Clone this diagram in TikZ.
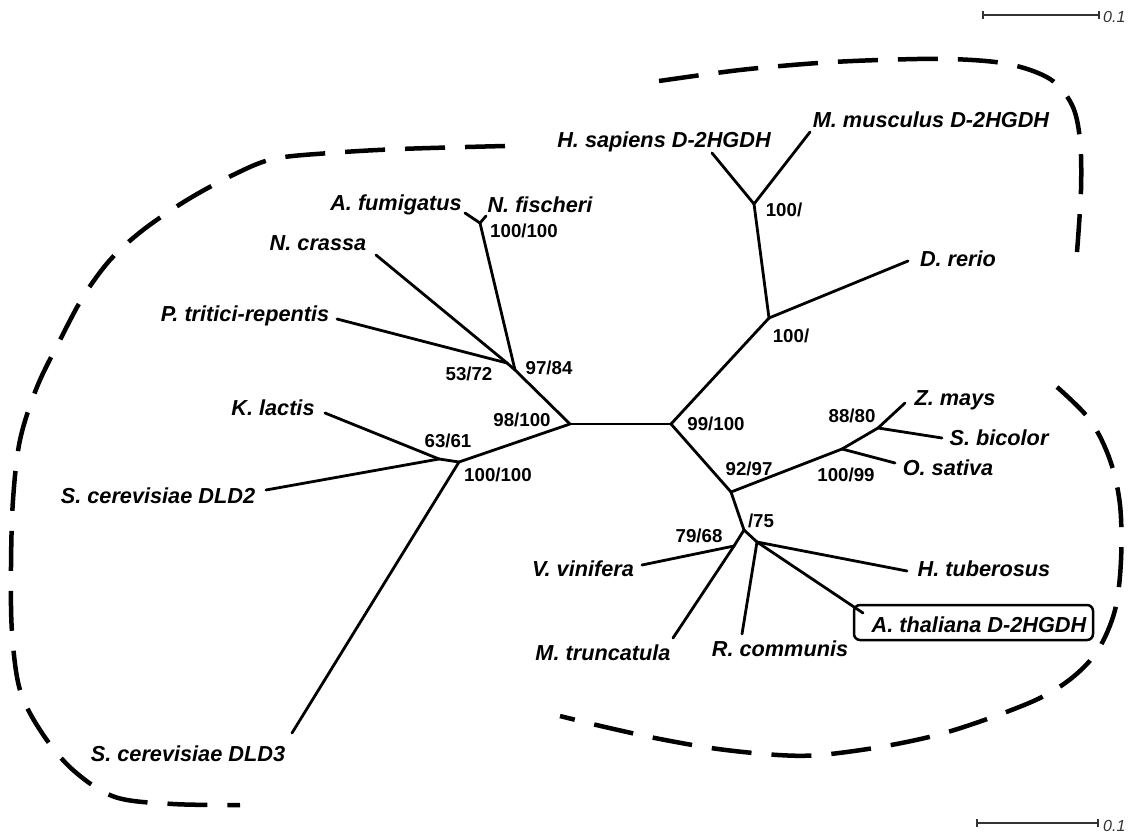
\documentclass[tikz,border=0pt]{standalone}
\usepackage{fontspec}
\setmainfont{Liberation Sans}
\usetikzlibrary{arrows.meta}
\begin{document}
\begin{tikzpicture}[x=1pt,y=-1pt,
  br/.style={line width=2.8pt, line cap=round, line join=round},
  grp/.style={line width=4.5pt, dash pattern=on 40pt off 20pt},
  leaf/.style={font=\fontsize{21.7}{24}\selectfont\bfseries\itshape, inner sep=0pt, anchor=base},
  sup/.style={font=\fontsize{18.7}{20}\selectfont\bfseries, inner sep=0pt, anchor=base},
  scl/.style={line width=1.8pt, draw=black!80, {Bar[width=8pt]}-{Bar[width=8pt]}},
  scltxt/.style={font=\fontsize{16}{18}\selectfont\itshape, inner sep=0pt, anchor=base west, text=black!80},
  hibox/.style={draw, line width=2.5pt, rounded corners=6pt, minimum width=239pt, minimum height=35pt, inner sep=0pt}
]
\useasboundingbox (0,0) rectangle (1131,834);

% ---------- tree coordinates ----------
\coordinate (L0) at (570,424);
\coordinate (R0) at (671,424);
\coordinate (F1) at (515,370);
\coordinate (F2) at (507,363);
\coordinate (AN) at (480,223);
\coordinate (eAfum) at (465,213);
\coordinate (eNfis) at (486,216);
\coordinate (eNcra) at (376,255);
\coordinate (ePtri) at (337,319);
\coordinate (Y1) at (459,462);
\coordinate (Y2) at (439,459);
\coordinate (eKlac) at (325,413);
\coordinate (eDldB) at (266,490);
\coordinate (eDldC) at (292,733);
\coordinate (A1) at (769,318);
\coordinate (A2) at (754,204);
\coordinate (eHsap) at (712,153);
\coordinate (eMmus) at (810,132);
\coordinate (eDrer) at (908,261);
\coordinate (P1) at (731,492);
\coordinate (M1) at (842,449);
\coordinate (M2) at (878,428);
\coordinate (eZmay) at (905,403);
\coordinate (eOsat) at (895,463);
\coordinate (eSbic) at (942,438);
\coordinate (P2) at (744,530);
\coordinate (P3) at (734,546);
\coordinate (eVvin) at (642,565);
\coordinate (eMtru) at (673,638);
\coordinate (P4) at (757,542);
\coordinate (eRcom) at (742,634);
\coordinate (eHtub) at (907,571);
\coordinate (eAtha) at (863,613);

% ---------- highlight box ----------
\node[hibox] (athabox) at (973.5,622.5) {};

% ---------- branches ----------
\draw[br] (L0) -- (R0);
\draw[br] (L0) -- (F1);
\draw[br] (F1) -- (F2);
\draw[br] (F2) -- (eNcra);
\draw[br] (F2) -- (ePtri);
\draw[br] (F1) -- (AN);
\draw[br] (AN) -- (eAfum);
\draw[br] (AN) -- (eNfis);
\draw[br] (L0) -- (Y1);
\draw[br] (Y1) -- (Y2);
\draw[br] (Y2) -- (eKlac);
\draw[br] (Y2) -- (eDldB);
\draw[br] (Y1) -- (eDldC);
\draw[br] (R0) -- (A1);
\draw[br] (A1) -- (A2);
\draw[br] (A2) -- (eHsap);
\draw[br] (A2) -- (eMmus);
\draw[br] (A1) -- (eDrer);
\draw[br] (R0) -- (P1);
\draw[br] (P1) -- (M1);
\draw[br] (M1) -- (M2);
\draw[br] (M2) -- (eZmay);
\draw[br] (M2) -- (eSbic);
\draw[br] (M1) -- (eOsat);
\draw[br] (P1) -- (P2);
\draw[br] (P2) -- (P3);
\draw[br] (P3) -- (eVvin);
\draw[br] (P3) -- (eMtru);
\draw[br] (P2) -- (P4);
\draw[br] (P4) -- (eRcom);
\draw[br] (P4) -- (eHtub);
\draw[br] (P4) -- (eAtha);

% ---------- leaf labels ----------
\node[leaf] (afum) at (396,211) {A. fumigatus};
\node[leaf] (nfis) at (540,213) {N. fischeri};
\node[leaf] (ncra) at (318,251) {N. crassa};
\node[leaf] (ptri) at (245,321) {P. tritici-repentis};
\node[leaf] (klac) at (273,415) {K. lactis};
\node[leaf] (dldb) at (158,503) {S. cerevisiae DLD2};
\node[leaf] (dldc) at (188,761) {S. cerevisiae DLD3};
\node[leaf] (hsap) at (664,148) {H. sapiens D-2HGDH};
\node[leaf] (mmus) at (931,128) {M. musculus D-2HGDH};
\node[leaf] (drer) at (958,266) {D. rerio};
\node[leaf] (zmay) at (955,405) {Z. mays};
\node[leaf] (sbic) at (999,445) {S. bicolor};
\node[leaf] (osat) at (948,475) {O. sativa};
\node[leaf] (htub) at (984,576) {H. tuberosus};
\node[leaf] (atha) at (979,632) {A. thaliana D-2HGDH};
\node[leaf] (rcom) at (780,656) {R. communis};
\node[leaf] (mtru) at (603,660) {M. truncatula};
\node[leaf] (vvin) at (583,576) {V. vinifera};

% ---------- support values ----------
\node[sup] (s1) at (524,237) {100/100};
\node[sup] (s2) at (549,374) {97/84};
\node[sup] (s3) at (469,380) {53/72};
\node[sup] (s4) at (522,426) {98/100};
\node[sup] (s5) at (448,447) {63/61};
\node[sup] (s6) at (498,481) {100/100};
\node[sup] (s7) at (716,430) {99/100};
\node[sup] (s8) at (791,342) {100/};
\node[sup] (s9) at (784,217) {100/};
\node[sup] (s10) at (749,475) {92/97};
\node[sup] (s11) at (852,422) {88/80};
\node[sup] (s12) at (846,481) {100/99};
\node[sup] (s13) at (761,527) {/75};
\node[sup] (s14) at (699,542) {79/68};

% ---------- group outlines ----------
\draw[grp] plot[smooth, tension=0.55] coordinates {(505,146) (400,149) (330,153) (273,159) (233,175) (187,200) (143,230) (110,260) (83,297) (60,340) (37,387) (20,440) (13,500) (11,567) (12,632) (20,690) (42,733) (73,770) (115,797) (173,804) (240,805)};
\draw[grp] plot[smooth, tension=0.55] coordinates {(659,81) (740,70) (818,63) (880,60) (950,59) (1008,64) (1050,79) (1072,105) (1080,140) (1081,190) (1077,252)};
\draw[grp] plot[smooth, tension=0.55] coordinates {(1057,387) (1090,420) (1110,460) (1120,505) (1121,560) (1115,610) (1098,650) (1073,677) (1040,698) (990,718) (937,735) (880,747) (820,755) (778,755) (718,749) (660,739) (605,727) (560,716)};

% ---------- scale bars ----------
\coordinate (sbA) at (982,15);
\coordinate (sbB) at (1100,15);
\draw[scl] (sbA) -- (sbB);
\node[scltxt] (sbt) at (1103,23) {0.1};
\coordinate (sbC) at (976,823);
\coordinate (sbD) at (1099,823);
\draw[scl] (sbC) -- (sbD);
\node[scltxt] (sbu) at (1103,831) {0.1};
\end{tikzpicture}
\end{document}
